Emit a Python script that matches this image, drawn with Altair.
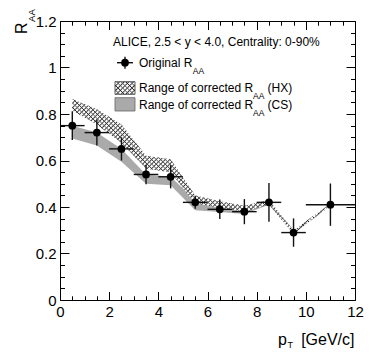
import math
import altair as alt
import pandas as pd

FONT = "Liberation Sans"

# ---------------- data ----------------
pt = [0.5, 1.5, 2.5, 3.5, 4.5, 5.5, 6.5, 7.5, 8.5, 9.5, 11.0]
pt_lo = [0.0, 1.0, 2.0, 3.0, 4.0, 5.0, 6.0, 7.0, 8.0, 9.0, 10.0]
pt_hi = [1.0, 2.0, 3.0, 4.0, 5.0, 6.0, 7.0, 8.0, 9.0, 10.0, 12.0]
raa = [0.75, 0.72, 0.65, 0.54, 0.53, 0.42, 0.39, 0.38, 0.42, 0.29, 0.41]
raa_err = [0.062, 0.055, 0.05, 0.042, 0.05, 0.028, 0.042, 0.054, 0.083, 0.061, 0.091]
hx_hi = [0.865, 0.82, 0.755, 0.62, 0.605, 0.45, 0.425, 0.405, 0.43, 0.30, 0.415]
hx_lo = [0.815, 0.755, 0.675, 0.565, 0.55, 0.415, 0.397, 0.38, 0.41, 0.285, 0.405]
cs_hi = [0.75, 0.72, 0.65, 0.54, 0.53, 0.43, 0.40, 0.385, 0.42, 0.29, 0.41]
cs_lo = [0.695, 0.665, 0.595, 0.50, 0.494, 0.386, 0.378, 0.37, 0.41, 0.285, 0.405]

x_major = [0, 2, 4, 6, 8, 10, 12]
x_minor = [0.5, 1, 1.5, 2.5, 3, 3.5, 4.5, 5, 5.5, 6.5, 7, 7.5, 8.5, 9, 9.5, 10.5, 11, 11.5]
y_major = [0, 0.2, 0.4, 0.6, 0.8, 1.0, 1.2]
y_minor = [0.05, 0.1, 0.15, 0.25, 0.3, 0.35, 0.45, 0.5, 0.55, 0.65, 0.7, 0.75,
           0.85, 0.9, 0.95, 1.05, 1.1, 1.15]

# legend / title layout (in data units)
leg_text = ["ALICE, 2.5 < y < 4.0, Centrality: 0-90%", "Original R", "AA",
            "Range of corrected R", "AA", "(HX)", "Range of corrected R", "AA", "(CS)"]
leg_x = [2.156, 3.214, 5.40, 3.214, 7.85, 8.44, 3.214, 7.85, 8.44]
leg_y = [1.0925, 1.0022, 0.972, 0.8946, 0.864, 0.8946, 0.8232, 0.793, 0.8232]
leg_size = [12, 12, 8.5, 12, 8.5, 12, 12, 8.5, 12]

PW, PH = 295, 279
XS = alt.Scale(domain=[0, 12], nice=False, zero=False)
YS = alt.Scale(domain=[0, 1.2], nice=False, zero=False)

df = pd.DataFrame({"pt": pt, "lo": pt_lo, "hi": pt_hi, "raa": raa,
                   "elo": [r - e for r, e in zip(raa, raa_err)],
                   "ehi": [r + e for r, e in zip(raa, raa_err)],
                   "hx_hi": hx_hi, "hx_lo": hx_lo, "cs_hi": cs_hi, "cs_lo": cs_lo})


def X(field, axis=None):
    return alt.X(field, type="quantitative", scale=XS, axis=axis)


def Y(field, axis=None):
    return alt.Y(field, type="quantitative", scale=YS, axis=axis)


def hatch(W, H, period, direction, dark, light):
    r = H / W
    k = (1 + r) / (1 + r * r)
    n = max(1, round((W + H) / (period * math.sqrt(2))))
    stops = []
    for i in range(n):
        stops.append(alt.GradientStop(offset=i / n, color=dark))
        stops.append(alt.GradientStop(offset=(i + 0.3) / n, color=light))
        stops.append(alt.GradientStop(offset=(i + 0.7) / n, color=light))
    stops.append(alt.GradientStop(offset=1, color=dark))
    if direction > 0:
        return alt.LinearGradient(gradient="linear", stops=stops, x1=0, y1=0, x2=k, y2=k * r)
    return alt.LinearGradient(gradient="linear", stops=stops, x1=0, y1=1, x2=k, y2=1 - k * r)


# ---------------- axes (ROOT-style inward ticks) ----------------
def axis(orient, values, tick=None, labels=False):
    kw = dict(orient=orient, values=values, title=None, domain=False, grid=False,
              labels=labels, zindex=3)
    if tick is None:
        kw["ticks"] = False
    else:
        kw.update(ticks=True, tickSize=alt.ExprRef(expr=str(-tick)),
                  tickColor="black", tickWidth=1)
    if labels:
        kw.update(labelFont=FONT, labelFontSize=15, labelColor="black", labelPadding=4,
                  labelFlush=False, labelOverlap=False, format="~g")
    return alt.Axis(**kw)


def axis_layer(xa, ya):
    return alt.Chart(df).mark_point(opacity=0).encode(x=X("pt", xa), y=Y("raa", ya))


axes = [
    axis_layer(axis("bottom", x_major, labels=True), axis("left", y_major, labels=True)),
    axis_layer(axis("bottom", x_major, 8.5), axis("left", y_major, 9)),
    axis_layer(axis("bottom", x_minor, 4.2), axis("left", y_minor, 4.5)),
    axis_layer(axis("top", x_major, 8.5), axis("right", y_major, 9)),
    axis_layer(axis("top", x_minor, 4.2), axis("right", y_minor, 4.5)),
]

# ---------------- data marks ----------------
base = alt.Chart(df)
W_hx = (max(pt) - min(pt)) / 12 * PW
H_hx = (max(hx_hi) - min(hx_lo)) / 1.2 * PH
DARK1, LIGHT1 = "#333333", "#ffffff"
DARK2, LIGHT2 = "rgba(40,40,40,1)", "rgba(255,255,255,0)"

cs_area = base.mark_area(color="#aaaaaa", opacity=1).encode(x=X("pt"), y=Y("cs_lo"), y2="cs_hi")
hx1 = base.mark_area(fill=hatch(W_hx, H_hx, 3.2, 1, DARK1, LIGHT1), opacity=1).encode(
    x=X("pt"), y=Y("hx_lo"), y2="hx_hi")
hx2 = base.mark_area(fill=hatch(W_hx, H_hx, 3.2, -1, DARK2, LIGHT2), opacity=1).encode(
    x=X("pt"), y=Y("hx_lo"), y2="hx_hi")

ev = base.mark_rule(color="#111111", strokeWidth=1.4).encode(x=X("pt"), y=Y("elo"), y2="ehi")
eh = base.mark_rule(color="#111111", strokeWidth=1.4).encode(x=X("lo"), x2="hi", y=Y("raa"))
pts = base.mark_circle(color="black", size=60, opacity=1).encode(x=X("pt"), y=Y("raa"))

# ---------------- legend ----------------
ldf = pd.DataFrame({"x": leg_x, "y": leg_y, "t": leg_text, "fs": leg_size})
leg_txt = alt.Chart(ldf).mark_text(align="left", baseline="alphabetic", font=FONT,
                                   color="black").encode(
    x=X("x"), y=Y("y"), text="t:N", size=alt.Size("fs:Q", scale=None))

sym = pd.DataFrame({"x": [2.319], "x2": [2.970], "xc": [2.644], "y": [1.0206],
                    "ylo": [1.0206 - 0.026], "yhi": [1.0206 + 0.026]})
sym_h = alt.Chart(sym).mark_rule(color="#111111", strokeWidth=1.4).encode(
    x=X("x"), x2="x2", y=Y("y"))
sym_v = alt.Chart(sym).mark_rule(color="#111111", strokeWidth=1.4).encode(
    x=X("xc"), y=Y("ylo"), y2="yhi")
sym_p = alt.Chart(sym).mark_circle(color="black", size=60, opacity=1).encode(x=X("xc"), y=Y("y"))

sw = pd.DataFrame({"x": [2.237], "x2": [3.051], "y": [0.8847], "y2": [0.9389]})
sw_cs = pd.DataFrame({"x": [2.237], "x2": [3.051], "y": [0.8129], "y2": [0.8701]})
W_sw = (3.051 - 2.237) / 12 * PW
H_sw = (0.9389 - 0.8847) / 1.2 * PH
sw1 = alt.Chart(sw).mark_rect(fill=hatch(W_sw, H_sw, 3.2, 1, DARK1, LIGHT1)).encode(
    x=X("x"), x2="x2", y=Y("y"), y2="y2")
sw2 = alt.Chart(sw).mark_rect(fill=hatch(W_sw, H_sw, 3.2, -1, DARK2, LIGHT2),
                              stroke="#333333", strokeWidth=0.8).encode(
    x=X("x"), x2="x2", y=Y("y"), y2="y2")
sw3 = alt.Chart(sw_cs).mark_rect(fill="#aaaaaa", stroke="#666666", strokeWidth=0.8).encode(
    x=X("x"), x2="x2", y=Y("y"), y2="y2")

# ---------------- axis titles ----------------
xt = pd.DataFrame({"x": [8.868, 9.254], "y": [-0.1935, -0.2086], "t": ["p", "T"], "fs": [16, 9]})
xt_l = alt.Chart(xt).mark_text(align="left", baseline="alphabetic", font=FONT, color="black").encode(
    x=X("x"), y=Y("y"), text="t:N", size=alt.Size("fs:Q", scale=None))
xt2 = pd.DataFrame({"x": [11.98], "y": [-0.1935], "t": ["[GeV/c]"]})
xt_r = alt.Chart(xt2).mark_text(align="right", baseline="alphabetic", font=FONT, color="black",
                                fontSize=16).encode(x=X("x"), y=Y("y"), text="t:N")
yt = pd.DataFrame({"x": [-1.342, -1.037], "y": [1.144, 1.196], "t": ["R", "AA"], "fs": [16, 9.5]})
yt_l = alt.Chart(yt).mark_text(align="left", baseline="alphabetic", font=FONT, color="black",
                               angle=270).encode(
    x=X("x"), y=Y("y"), text="t:N", size=alt.Size("fs:Q", scale=None))

chart = alt.layer(
    *axes, cs_area, hx1, hx2, ev, eh, pts,
    leg_txt, sym_h, sym_v, sym_p, sw1, sw2, sw3, xt_l, xt_r, yt_l
).resolve_axis(x="independent", y="independent").properties(
    width=PW, height=PH,
    autosize=alt.AutoSizeParams(type="none"),
    padding={"left": 52, "top": 13, "right": 10, "bottom": 50},
    background="white",
).configure_view(stroke="black", strokeWidth=1)

chart.save("out.html", embed_options={"renderer": "svg", "actions": False})
